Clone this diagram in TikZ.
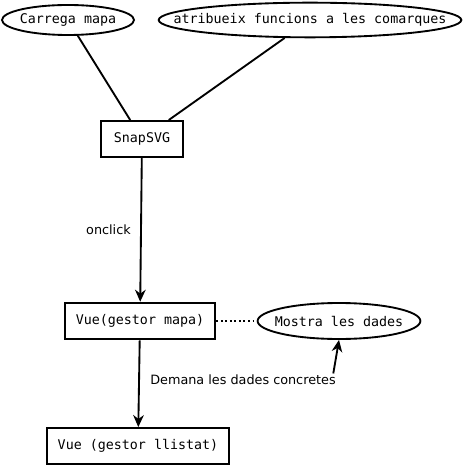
\documentclass[tikz,border=0pt]{standalone}
\usepackage{fontspec}
\setmonofont{DejaVu Sans Mono}
\setsansfont{DejaVu Sans}
\usetikzlibrary{shapes.geometric,arrows.meta}

\begin{document}
\begin{tikzpicture}[x=0.75pt,y=-0.75pt,>={Stealth[length=9pt,width=8pt]},
  font=\ttfamily\fontsize{10}{12}\selectfont,
  bolla/.style={draw, ellipse, line width=1.4pt, inner ysep=0pt},
  caixa/.style={draw, rectangle, line width=1.4pt, inner sep=0pt},
  etiqueta/.style={font=\sffamily\fontsize{9.6}{11}\selectfont, inner sep=1pt}]
\useasboundingbox (0,0) rectangle (463,466);

\node[bolla, inner xsep=-1.2pt, minimum width=99pt, minimum height=22.5pt] (carrega) at (68,20) {Carrega mapa};
\node[bolla, inner xsep=-22.1pt, minimum width=227pt, minimum height=26pt] (atribueix) at (310,20) {atribueix funcions a les comarques};
\node[caixa, minimum width=61.5pt, minimum height=27pt] (snap) at (142,139) {SnapSVG};
\node[caixa, minimum width=113pt, minimum height=27.5pt] (vuemapa) at (140,321) {Vue(gestor mapa)};
\node[bolla, inner xsep=-5pt, minimum width=122pt, minimum height=27pt] (mostra) at (339,321) {Mostra les dades};
\node[caixa, minimum width=136.5pt, minimum height=27pt] (vuellistat) at (138,446) {Vue (gestor llistat)};
\node[etiqueta] (demana) at (243,380) {Demana les dades concretes};

\path[draw,line width=1.4pt] (carrega) -- (snap);
\path[draw,line width=1.4pt] (atribueix) -- (snap);
\path[draw,line width=1.4pt,->] (snap) -- node[etiqueta, left, xshift=-6pt] {onclick} (vuemapa);
\path[draw,line width=1.4pt,dotted] (vuemapa) -- (mostra);
\path[draw,line width=1.4pt,->] (vuemapa) -- (vuellistat);
\path[draw,line width=1.4pt,->] ([xshift=-3pt]demana.north east) -- (mostra.south);
\end{tikzpicture}
\end{document}
